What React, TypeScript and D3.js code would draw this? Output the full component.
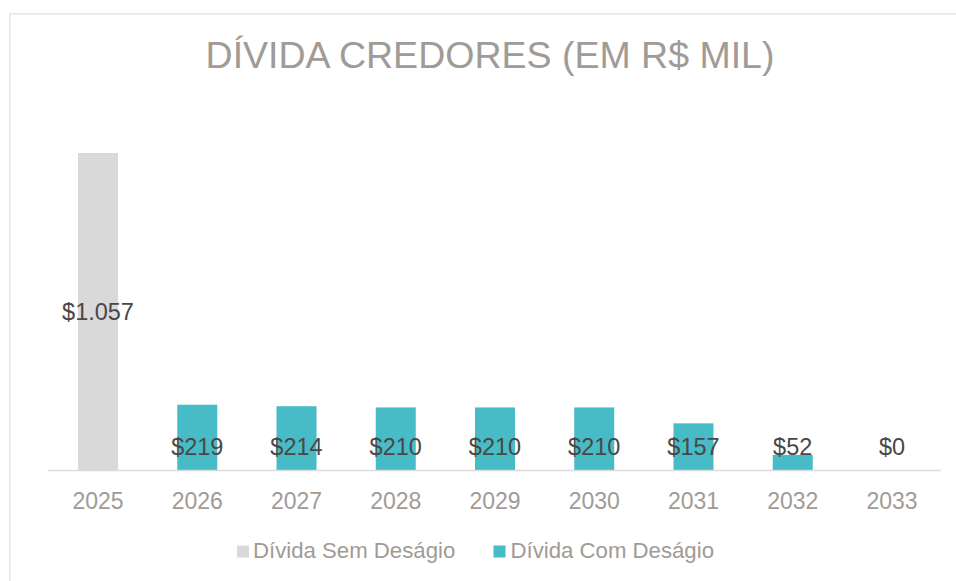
import React from "react";
import * as d3 from "d3";

const categories = ["2025", "2026", "2027", "2028", "2029", "2030", "2031", "2032", "2033"];
const semDesagio: (number | null)[] = [1057, null, null, null, null, null, null, null, null];
const comDesagio: (number | null)[] = [null, 219, 214, 210, 210, 210, 157, 52, 0];
const semLabels: (string | null)[] = ["$1.057", null, null, null, null, null, null, null, null];
const comLabels: (string | null)[] = [null, "$219", "$214", "$210", "$210", "$210", "$157", "$52", "$0"];
const seriesNames = ["Dívida Sem Deságio", "Dívida Com Deságio"];
const title = "DÍVIDA CREDORES (EM R$ MIL)";

const W = 956;
const H = 581;
const GRAY = "#D9D9D9";
const TEAL = "#47BCC6";
const TEXT = "#A09B96";
const LABEL = "#4A4746";
const FONT = "Arial, 'Liberation Sans', sans-serif";

export default function App() {
  const x = d3.scaleBand<string>().domain(categories).range([48.4, 941.6]).paddingInner(0.6).paddingOuter(0.3);
  const baseline = 470.5;
  const y = d3.scaleLinear().domain([0, 1057]).range([baseline, 153]);
  const bw = 40;
  const cx = (c: string) => (x(c) as number) + x.bandwidth() / 2;

  return (
    <svg width={W} height={H} style={{ position: "absolute", left: 0, top: 0, background: "#fff" }}>
      <rect x={9.75} y={13.75} width={W + 20} height={H + 20} fill="#fff" stroke="#E6E6E6" strokeWidth={1.5} />
      <text x={490} y={68} textAnchor="middle" fontFamily={FONT} fontSize={37.5} fill={TEXT}>
        {title}
      </text>
      {categories.map((c, i) =>
        semDesagio[i] != null ? (
          <rect key={"s" + c} x={cx(c) - bw / 2} y={y(semDesagio[i] as number)} width={bw} height={baseline - y(semDesagio[i] as number)} fill={GRAY} />
        ) : null
      )}
      {categories.map((c, i) =>
        comDesagio[i] != null && (comDesagio[i] as number) > 0 ? (
          <rect key={"c" + c} x={cx(c) - bw / 2} y={y(comDesagio[i] as number)} width={bw} height={baseline - y(comDesagio[i] as number)} fill={TEAL} />
        ) : null
      )}
      <line x1={48} x2={941} y1={baseline} y2={baseline} stroke="#DCDCDC" strokeWidth={1.5} />
      {categories.map((c, i) =>
        semLabels[i] ? (
          <text key={"sl" + c} x={cx(c)} y={(y(semDesagio[i] as number) + baseline) / 2 + 8.5} textAnchor="middle" fontFamily={FONT} fontSize={23.5} fill={LABEL}>
            {semLabels[i]}
          </text>
        ) : null
      )}
      {categories.map((c, i) =>
        comLabels[i] ? (
          <text key={"cl" + c} x={cx(c)} y={454.5} textAnchor="middle" fontFamily={FONT} fontSize={23.5} fill={LABEL}>
            {comLabels[i]}
          </text>
        ) : null
      )}
      {categories.map((c) => (
        <text key={"t" + c} x={cx(c)} y={508.5} textAnchor="middle" fontFamily={FONT} fontSize={23} fill={TEXT}>
          {c}
        </text>
      ))}
      <rect x={237} y={545.5} width={12} height={12} fill={GRAY} />
      <text x={253} y={557.5} fontFamily={FONT} fontSize={22.2} fill={TEXT}>
        {seriesNames[0]}
      </text>
      <rect x={493.5} y={545.5} width={12} height={12} fill={TEAL} />
      <text x={510.5} y={557.5} fontFamily={FONT} fontSize={22.2} fill={TEXT}>
        {seriesNames[1]}
      </text>
    </svg>
  );
}
